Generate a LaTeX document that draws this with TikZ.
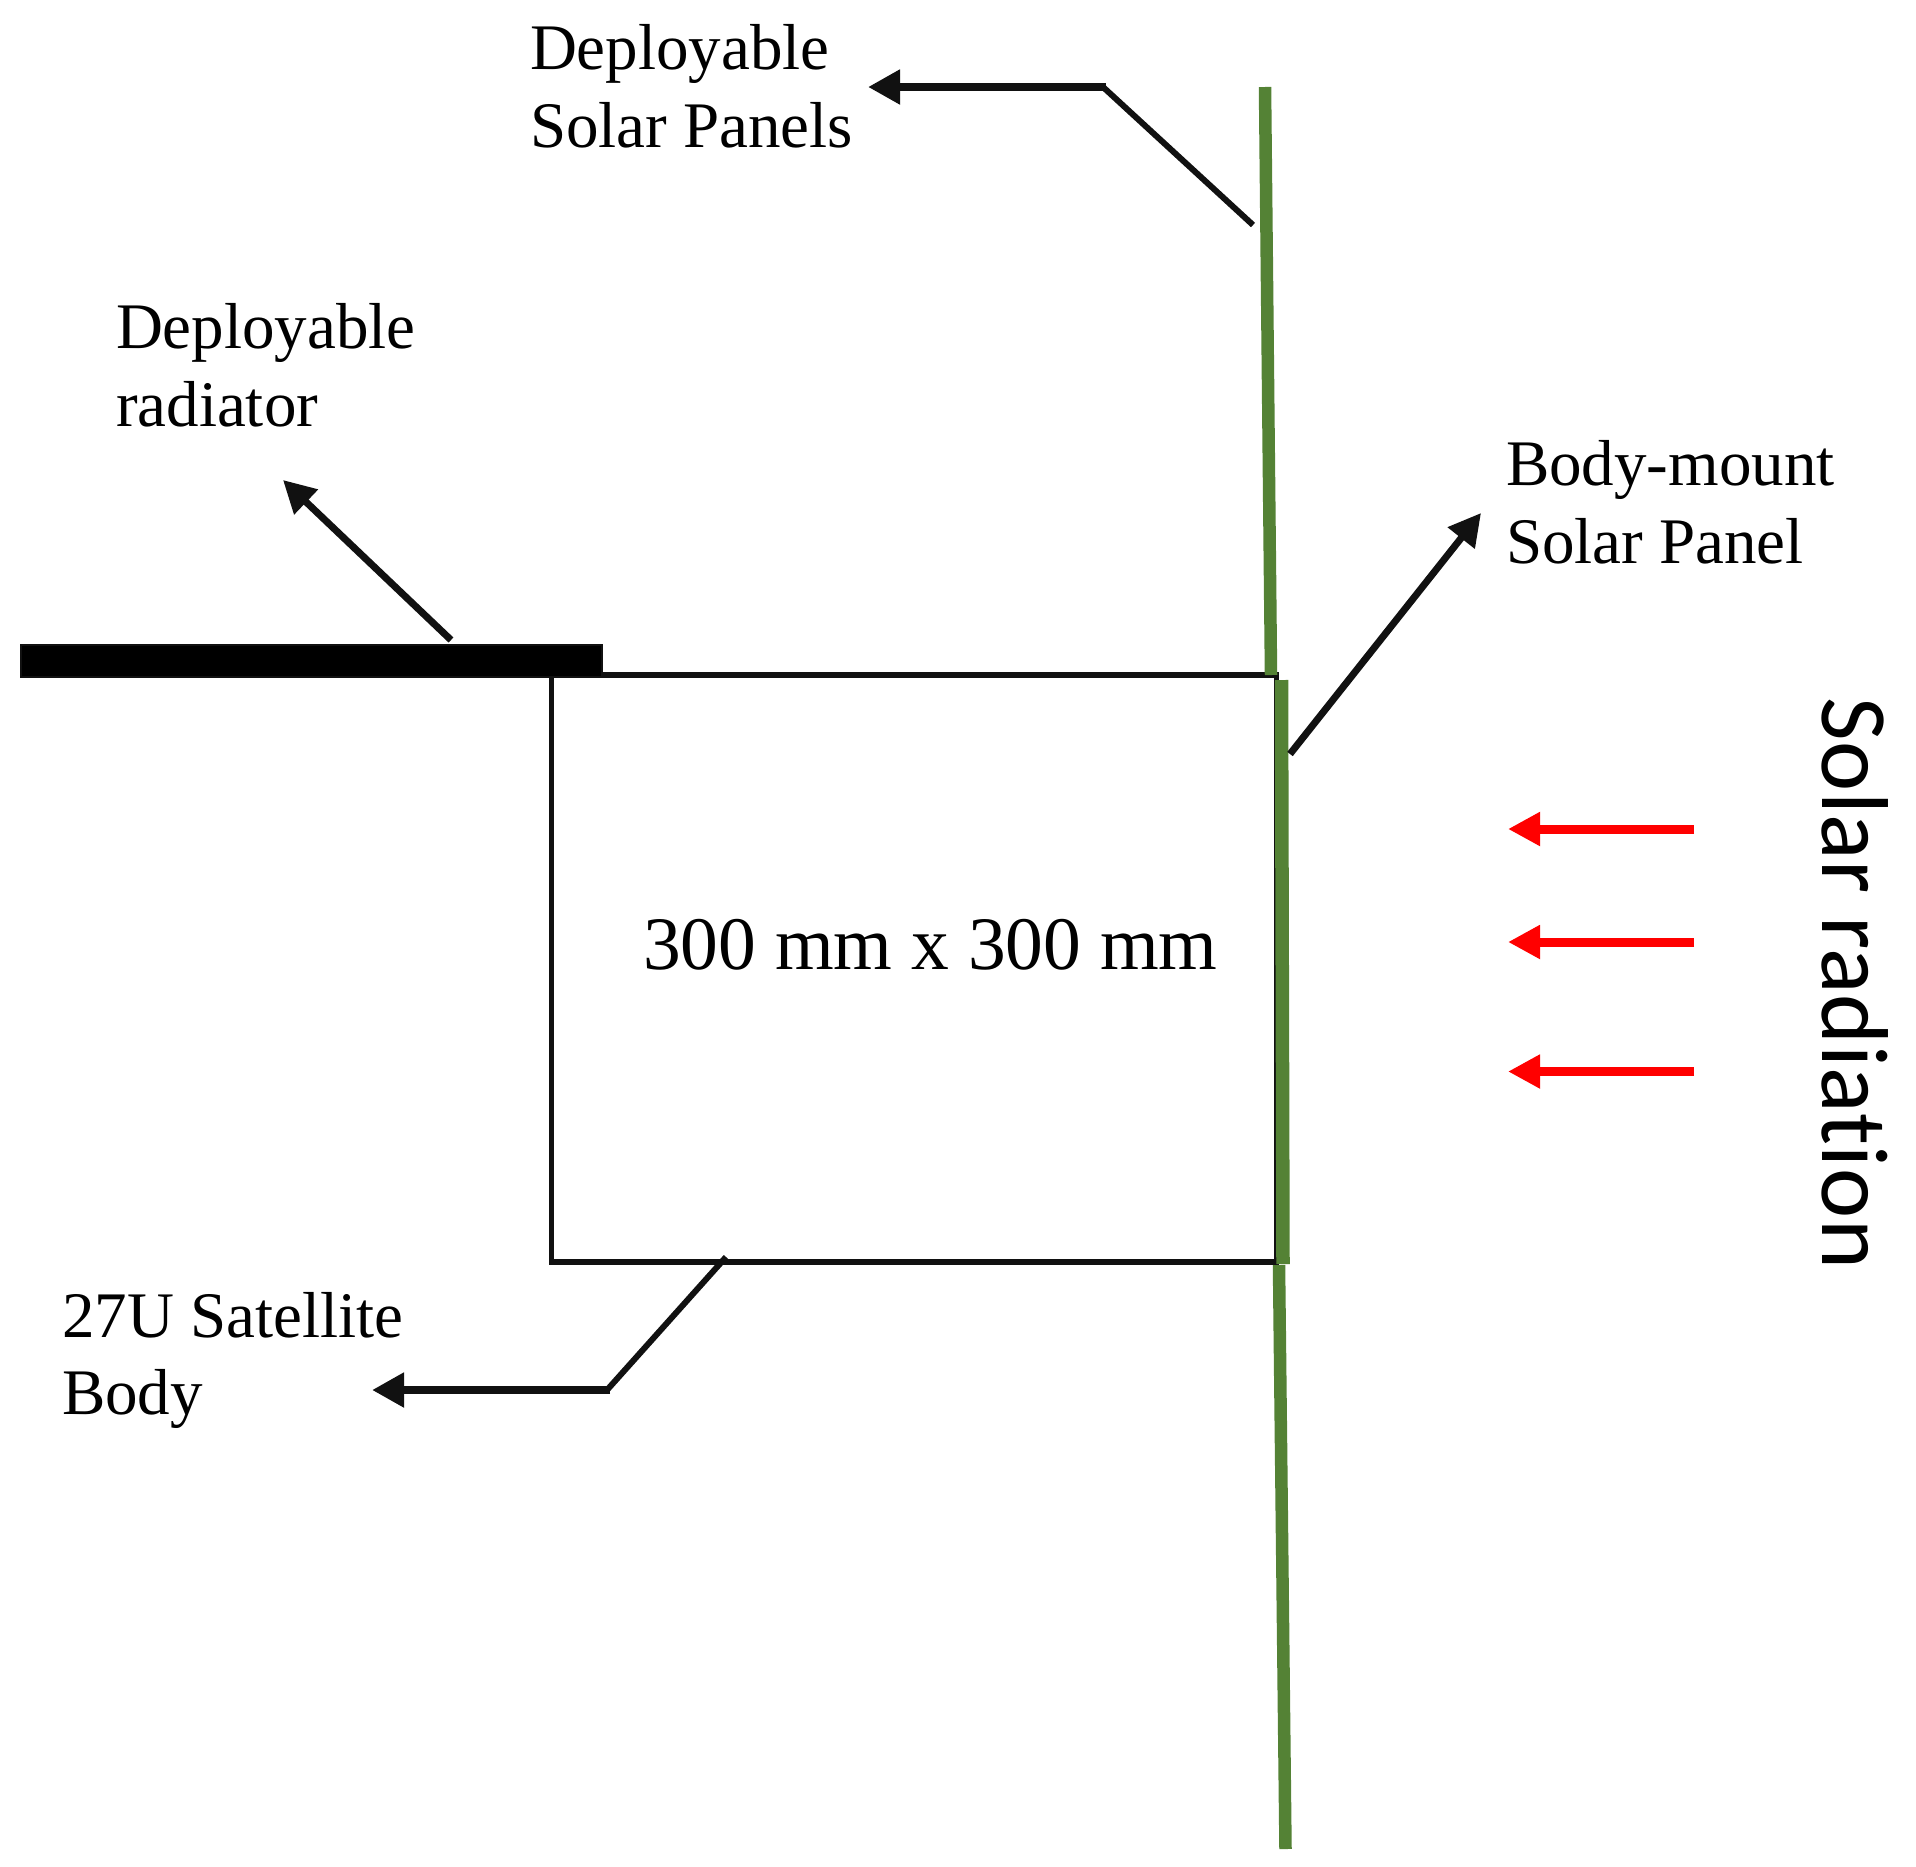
\documentclass[tikz,border=0pt]{standalone}
\usepackage{fontspec}
\setmainfont{Liberation Serif}
\newfontfamily\calfont[Ligatures=NoCommon,LetterSpace=0.8]{Carlito}
\usetikzlibrary{arrows.meta}
\definecolor{ink}{HTML}{111111}
\definecolor{panel}{HTML}{548235}
\tikzset{
  lbl/.style={inner sep=0pt,outer sep=0pt,anchor=base west,align=left,text=black,font=\fontsize{65}{77.5}\selectfont},
  leader/.style={draw=ink,line width=6pt},
  pointer/.style={draw=ink,line width=8pt,-{Triangle[length=32pt,width=33pt]}},
  ray/.style={draw=red,line width=9pt,-{Triangle[length=32pt,width=32pt]}},
  greenline/.style={draw=panel,line width=12.5pt}
}
\begin{document}
\begin{tikzpicture}[x=1pt,y=-1pt]
\useasboundingbox (0,0) rectangle (1916,1866);
% body
\node[draw=ink,line width=5.5pt,minimum width=725pt,minimum height=587pt,inner sep=0pt,outer sep=0pt,anchor=north west] (body) at (551.5,675) {};
\node[fill=black,draw=ink,line width=2pt,minimum width=581pt,minimum height=32pt,inner sep=0pt,outer sep=0pt,anchor=north west] (radiator) at (21,645) {};
% coordinates
\coordinate (panelTop) at (1265,87);
\coordinate (panelTopEnd) at (1271,675);
\coordinate (panelLowStart) at (1279,1265);
\coordinate (panelLowEnd) at (1285.5,1849);
\coordinate (bodyPanelTop) at (1281.5,680);
\coordinate (bodyPanelEnd) at (1283,1264);
\draw[greenline] (panelTop) -- (panelTopEnd);
\draw[greenline] (panelLowStart) -- (panelLowEnd);
\draw[draw=panel,line width=13.5pt] (bodyPanelTop) -- (bodyPanelEnd);
% labels
\node[lbl] (dsp) at (530,147) {Deployable\\Solar Panels};
\node[lbl] (drad) at (116,426) {Deployable\\radiator};
\node[lbl] (bmsp) at (1506,563) {Body-mount\\Solar Panel};
\node[lbl] (sat) at (62,1414.5) {27U Satellite\\Body};
\node[inner sep=0pt,outer sep=0pt,anchor=base west,font=\fontsize{75.5}{90}\selectfont] (dim) at (643,969) {300 mm x 300 mm};
\node[inner sep=0pt,outer sep=0pt,anchor=base west,rotate=-90,font=\calfont\fontsize{95}{110}\selectfont] (solar) at (1822,697) {Solar radiation};
% deployable panels pointer
\coordinate (a1) at (1253,225);
\coordinate (a2) at (1103,87);
\coordinate (a3) at (868,87);
\draw[leader] (a1) -- (a2);
\draw[pointer] ([xshift=3pt]a2) -- (a3);
% radiator pointer
\coordinate (b1) at (451,640);
\coordinate (b2) at (283,480);
\draw[pointer,line width=7pt] (b1) -- (b2);
% body-mount pointer
\coordinate (c1) at (1290,754);
\coordinate (c2) at (1481,513);
\draw[pointer,line width=7pt] (c1) -- (c2);
% satellite pointer
\coordinate (d1) at (726,1257);
\coordinate (d2) at (607,1390);
\coordinate (d3) at (372,1390);
\draw[leader] (d1) -- (d2);
\draw[pointer] ([xshift=3pt]d2) -- (d3);
% solar rays
\coordinate (r1s) at (1694,829); \coordinate (r1e) at (1508,829);
\coordinate (r2s) at (1694,942); \coordinate (r2e) at (1508,942);
\coordinate (r3s) at (1694,1071.5); \coordinate (r3e) at (1508,1071.5);
\draw[ray] (r1s) -- (r1e);
\draw[ray] (r2s) -- (r2e);
\draw[ray] (r3s) -- (r3e);
\end{tikzpicture}
\end{document}
